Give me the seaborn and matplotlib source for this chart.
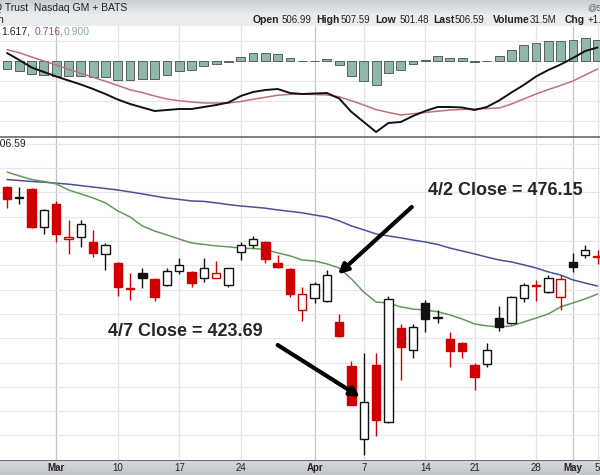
import numpy as np
import pandas as pd
import seaborn as sns
import matplotlib.pyplot as plt

# trading days shown (Good Friday closed)
dates = pd.bdate_range('2025-02-25', '2025-05-05').drop(pd.Timestamp('2025-04-18'))

# OHLC
opens = [512.2, 507.9, 511.4, 495.8, 505.3, 490.9, 491.7, 489.6, 484.7, 481.0,
         470.7, 476.9, 474.4, 471.9, 477.7, 477.3, 474.8, 474.8, 471.9, 485.5,
         488.4, 489.6, 481.0, 478.5, 461.6, 466.6, 465.3, 456.7, 438.6, 408.6,
         439.0, 415.5, 454.2, 445.2, 464.5, 458.4, 449.7, 448.1, 439.0, 439.4,
         458.3, 456.3, 466.6, 471.6, 469.0, 467.0, 481.4, 484.3, 483.5]
highs = [512.6, 512.2, 512.0, 503.0, 506.5, 498.7, 498.7, 494.6, 489.2, 481.4,
         476.9, 478.9, 474.6, 478.9, 483.0, 477.5, 483.0, 481.8, 479.1, 489.6,
         492.1, 490.0, 484.3, 478.7, 470.9, 473.2, 478.1, 460.0, 440.6, 443.9,
         443.9, 467.4, 455.9, 455.9, 465.8, 461.6, 452.6, 448.3, 439.8, 448.1,
         463.3, 467.2, 472.7, 474.0, 476.0, 476.0, 485.1, 488.4, 486.3]
lows = [503.6, 505.3, 495.5, 492.9, 489.6, 484.7, 487.6, 483.4, 478.1, 467.4,
        465.8, 470.7, 465.3, 471.5, 476.5, 471.1, 473.2, 474.6, 471.1, 482.2,
        487.1, 481.0, 478.9, 467.0, 457.1, 464.5, 464.9, 450.5, 422.5, 401.9,
        409.8, 415.1, 432.8, 441.9, 452.6, 456.3, 438.2, 441.9, 428.7, 438.2,
        453.0, 455.9, 464.9, 465.3, 468.6, 461.6, 477.3, 483.0, 480.6]
closes = [507.3, 507.7, 495.8, 502.8, 492.9, 491.7, 497.0, 485.1, 488.4, 471.1,
          470.3, 474.8, 467.0, 477.7, 480.2, 472.7, 478.9, 476.9, 478.9, 488.4,
          490.9, 482.6, 479.3, 468.4, 468.2, 472.3, 476.15, 450.9, 422.7, 423.69,
          416.4, 466.0, 446.4, 454.6, 457.9, 458.3, 444.9, 444.7, 434.1, 445.2,
          454.6, 467.0, 471.9, 471.5, 474.8, 474.4, 479.3, 486.3, 483.4]
prev_close = 514.0

# moving averages (green = 20 day, blue = 50 day)
ma20 = [518.4, 516.8, 515.3, 514.5, 513.5, 511.0, 509.4, 507.7, 505.7, 502.4,
        499.9, 496.2, 494.1, 492.5, 490.8, 489.2, 488.6, 488.0, 487.6, 487.1,
        486.9, 486.5, 485.1, 483.9, 482.2, 481.8, 480.6, 478.9, 474.4, 469.0,
        464.9, 464.5, 462.9, 462.0, 461.6, 460.9, 459.6, 457.9, 455.9, 455.1,
        454.6, 455.1, 456.7, 458.3, 460.0, 462.9, 464.5, 466.2, 468.2]
ma50 = [515.3, 514.9, 514.5, 514.2, 513.8, 513.4, 512.8, 512.2, 511.6, 511.0,
        510.2, 509.4, 508.5, 507.7, 507.1, 506.5, 506.3, 505.7, 505.0, 504.4,
        504.0, 503.5, 502.8, 502.2, 501.6, 500.7, 499.9, 498.3, 496.2, 494.6,
        492.9, 492.1, 491.3, 490.4, 489.6, 488.6, 487.1, 485.9, 484.7, 483.4,
        482.2, 481.4, 480.2, 478.9, 477.3, 476.0, 474.0, 472.7, 471.5]

# MACD panel
macd_line = [1.44, 0.18, -1.17, -1.98, -2.79, -3.51, -4.23, -5.04, -5.94, -6.93,
             -7.74, -8.37, -9.0, -8.82, -8.64, -8.64, -8.28, -7.92, -7.47, -6.3,
             -5.58, -5.22, -5.04, -5.76, -5.94, -5.85, -5.76, -6.75, -9.18, -10.98,
             -12.78, -11.16, -10.98, -9.9, -9.0, -8.28, -8.28, -8.37, -8.82, -8.28,
             -7.11, -5.67, -4.32, -2.79, -1.62, -0.63, 0.54, 1.8, 2.43]
macd_signal = [2.03, 1.49, 0.72, 0.0, -0.72, -1.49, -2.21, -2.93, -3.65, -4.39,
               -5.18, -5.69, -6.3, -6.84, -7.15, -7.38, -7.56, -7.56, -7.56, -7.29,
               -6.89, -6.53, -6.16, -6.01, -5.94, -6.03, -6.12, -6.44, -7.15, -7.92,
               -8.75, -9.25, -9.72, -9.49, -9.27, -9.04, -8.82, -8.73, -8.64, -8.55,
               -8.46, -7.74, -6.84, -5.94, -5.13, -4.41, -3.6, -2.52, -1.44]
macd_hist = [-1.44, -1.8, -2.34, -2.52, -2.7, -2.7, -2.7, -2.88, -2.88, -3.42,
             -3.42, -3.24, -3.24, -2.52, -1.8, -1.62, -0.9, -0.54, -0.09, 0.72,
             1.44, 1.44, 1.26, 0.54, 0.09, 0.09, 0.36, -0.72, -2.7, -3.6,
             -4.32, -2.16, -1.62, -0.54, 0.18, 0.9, 0.54, 0.54, -0.09, 0.09,
             0.9, 1.98, 2.88, 3.24, 3.6, 3.6, 3.78, 4.14, 3.78]

tick_dates = ['2025-03-03', '2025-03-10', '2025-03-17', '2025-03-24', '2025-04-01',
              '2025-04-07', '2025-04-14', '2025-04-21', '2025-04-28', '2025-05-01',
              '2025-05-05']
tick_labels = ['Mar', '10', '17', '24', 'Apr', '7', '14', '21', '28', 'May', '5']

sns.set_style('white')
plt.rcParams['font.family'] = ['Liberation Sans', 'DejaVu Sans']

x = np.arange(len(dates))
o, h, l, c = map(np.array, (opens, highs, lows, closes))
prev = np.r_[prev_close, c[:-1]]
tick_pos = [dates.get_loc(pd.Timestamp(d)) for d in tick_dates]
xlim = (-0.57, 48.2)

W, H = 600, 475
fig = plt.figure(figsize=(6, 4.75), dpi=100)

def fy(py):
    return 1 - py / H

# header strip
ax_head = fig.add_axes([0, fy(26), 1, 26 / H])
grad = np.ones((26, 1, 3))
for r in range(26):
    if r < 14:
        v = 0.80 + 0.10 * r / 13
        grad[r, 0] = [v, v + 0.01, v + 0.03]
    else:
        grad[r, 0] = [0.92, 0.93, 0.945]
ax_head.imshow(grad, aspect='auto', extent=(0, 1, 0, 1))
ax_head.set_axis_off()

# MACD panel
ax_m = fig.add_axes([0, fy(137), 1, 111 / H])
sns.barplot(x=x, y=macd_hist, native_scale=True, width=0.72, color='#8fb8aa',
            saturation=1, edgecolor='#56625c', linewidth=0.7, errorbar=None, ax=ax_m)
sns.lineplot(x=x, y=macd_signal, color='#c0707c', linewidth=1.1, ax=ax_m)
sns.lineplot(x=x, y=macd_line, color='#111111', linewidth=1.4, ax=ax_m)
ax_m.set_xlim(xlim)
ax_m.set_ylim(-13.68, 6.3)
ax_m.set_yticks(np.arange(-10.8, 6.3, 3.6))
ax_m.grid(axis='y', color='#e4e6ea', lw=0.8)

# price panel
ax = fig.add_axes([0, 15 / H, 1, 323 / H])
for i in x:
    col = '#d10000' if c[i] < prev[i] else '#111111'
    face = 'white' if c[i] > o[i] else col
    ax.vlines(i, l[i], h[i], color=col, lw=1, zorder=3)
    ax.bar(i, max(abs(c[i] - o[i]), 0.25), bottom=min(o[i], c[i]), width=0.68,
           color=face, edgecolor=col, linewidth=1, zorder=4)
sns.lineplot(x=x, y=ma50, color='#4f4e98', linewidth=1.1, ax=ax, zorder=2)
sns.lineplot(x=x, y=ma20, color='#629a5c', linewidth=1.1, ax=ax, zorder=2)
ax.set_xlim(xlim)
ax.set_ylim(399.9, 532.8)
ax.set_yticks(np.arange(400, 531, 10))
ax.grid(axis='y', color='#e4e6ea', lw=0.8)

for a in (ax, ax_m):
    for p, lab in zip(tick_pos, tick_labels):
        month = lab.isalpha()
        a.axvline(p, color='#c2c6cc' if month else '#e0e3e7', lw=0.9, zorder=0)
    a.tick_params(left=False, bottom=False, labelleft=False, labelbottom=False)
    a.set_xlabel('')
    a.set_ylabel('')
    for s in a.spines.values():
        s.set_visible(False)
ax.spines['top'].set_visible(True)
ax.spines['top'].set_color('#666a70')
ax.spines['top'].set_linewidth(1.2)

# annotations
ax.text(40.5, 510.6, '4/2 Close = 476.15', fontsize=13, fontweight='bold',
        ha='center', va='center', zorder=6)
ax.text(14.5, 452.6, '4/7 Close = 423.69', fontsize=13, fontweight='bold',
        ha='center', va='center', zorder=6)
arrow = dict(arrowstyle='-|>', color='black', lw=3, mutation_scale=14,
             shrinkA=0, shrinkB=0)
ax.annotate('', xy=(26.9, 476.3), xytext=(32.9, 504.0), arrowprops=arrow, zorder=6)
ax.annotate('', xy=(28.7, 425.8), xytext=(22.0, 447.2), arrowprops=arrow, zorder=6)

# date band
ax_x = fig.add_axes([0, 0, 1, 15 / H])
band = np.ones((15, 1, 3))
for r in range(15):
    v = 0.84 - 0.08 * r / 14
    band[r, 0] = [v, v + 0.01, v + 0.03]
ax_x.imshow(band, aspect='auto', extent=(xlim[0], xlim[1], 0, 1))
ax_x.set_xlim(xlim)
ax_x.set_ylim(0, 1)
ax_x.axhline(1, color='#6a6e76', lw=1.5)
for p, lab in zip(tick_pos, tick_labels):
    ax_x.text(p, 0.45, lab, fontsize=7, ha='center', va='center', color='#222',
              fontweight='bold' if lab.isalpha() else 'normal')
ax_x.set_axis_off()

# header texts (cut at the edges, as in the original screenshot)
fig.text(-6 / W, fy(8), 'Q Trust  Nasdaq GM + BATS', fontsize=7.5, va='center', color='#222')
fig.text(587 / W, fy(8), '@StockCharts.com', fontsize=6.5, va='center', color='#555')
fig.text(-3 / W, fy(20), 'n', fontsize=7.5, va='center', color='#222')
header_items = [('Open', 253, True), ('506.99', 282, False), ('High', 316, True),
                ('507.59', 341, False), ('Low', 375, True), ('501.48', 400, False),
                ('Last', 433, True), ('506.59', 455, False), ('Volume', 493, True),
                ('31.5M', 530, False), ('Chg', 565, True), ('+1.80', 588, False)]
for t, px, bold in header_items:
    fig.text(px / W, fy(20), t, fontsize=7.5 if bold else 7, va='center', color='#222',
             fontweight='bold' if bold else 'normal')

# MACD legend values
for t, px, col in [('1.617,', 1, '#222222'), ('0.716,', 35, '#a8505e'), ('0.900', 64, '#8aaa9e')]:
    fig.text(px / W, fy(32), t, fontsize=7.5, va='center', color=col)
fig.text(26 / W, fy(144), '506.59', fontsize=7.5, va='center', ha='right', color='#222')

fig.savefig('out.png', dpi=100)
